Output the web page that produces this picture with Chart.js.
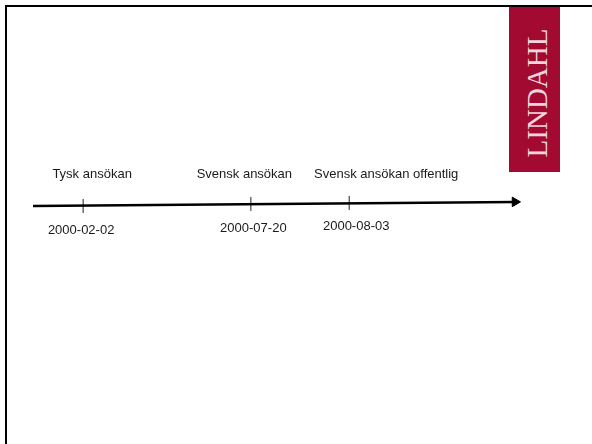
<!DOCTYPE html>
<html>
<head>
<meta charset="utf-8">
<script src="https://cdn.jsdelivr.net/npm/chart.js@4"></script>
<style>
  html, body { margin: 0; padding: 0; background: #fff; }
  #wrap { position: relative; width: 592px; height: 444px; overflow: hidden; }
  #frame { position: absolute; left: 5px; top: 5px; right: -10px; bottom: -10px;
           border-top: 2.5px solid #000; border-left: 2.5px solid #000; }
  #logo { position: absolute; left: 509px; top: 7px; width: 51px; height: 165px; background: #a30a31; }
  #logo span { position: absolute; left: 28px; top: 86px; transform: translate(-50%, -50%) rotate(-90deg);
               font-family: "Liberation Serif", "DejaVu Serif", serif; font-size: 29px; color: #f0d6dc;
               white-space: nowrap; line-height: 1; }
  canvas { position: absolute; left: 0; top: 0; }
</style>
</head>
<body>
<div id="wrap">
  <div id="frame"></div>
  <div id="logo"><span>LINDAHL</span></div>
  <canvas id="timeline" width="592" height="444"></canvas>
</div>
<script>
// events on the timeline (schematic positions, not to time scale)
const eventNames = ['Tysk ansökan', 'Svensk ansökan', 'Svensk ansökan offentlig'];
const eventDates = ['2000-02-02', '2000-07-20', '2000-08-03'];
const eventPos = [10.4, 45.2, 65.6];
const eventY = [0, 0.01, 0.015];
// the axis line itself, drawn slightly tilted as in the slide
const axisX = [0, 100];
const axisY = [0, 0.02];

function initChart() {
    if (typeof Chart === 'undefined') {
        setTimeout(initChart, 500);
        return;
    }

    const labelPlugin = {
        id: 'eventLabels',
        afterDatasetsDraw(chart, args, opts) {
            const ctx = chart.ctx;
            const meta = chart.getDatasetMeta(1);
            ctx.save();
            ctx.font = '13px "Liberation Sans", Arial, sans-serif';
            ctx.fillStyle = '#1a1a1a';
            ctx.textAlign = 'center';
            ctx.textBaseline = 'middle';
            meta.data.forEach((pt, i) => {
                ctx.fillText(eventNames[i], pt.x + opts.nameDx[i], opts.nameY);
                ctx.fillText(eventDates[i], pt.x + opts.dateDx[i], pt.y + opts.dateDy);
            });
            ctx.restore();
        }
    };

    const ctx = document.getElementById('timeline').getContext('2d');

    new Chart(ctx, {
        type: 'scatter',
        data: {
            datasets: [{
                label: 'axis',
                data: axisX.map((x, i) => ({ x: x, y: axisY[i] })),
                showLine: true,
                clip: false,
                borderColor: '#000',
                borderWidth: 2.5,
                pointStyle: 'triangle',
                rotation: 90,
                pointRadius: [0, 5.5],
                pointBackgroundColor: '#000',
                pointBorderColor: '#000',
                pointBorderWidth: 1
            },
            {
                label: 'events',
                data: eventPos.map((x, i) => ({ x: x, y: eventY[i] })),
                clip: false,
                pointStyle: 'line',
                rotation: 90,
                pointRadius: 7,
                pointBorderColor: '#222',
                pointBorderWidth: 1
            }]
        },
        options: {
            responsive: false,
            animation: false,
            layout: { autoPadding: false, padding: { left: 33, right: 77, top: 0, bottom: 32 } },
            scales: {
                x: { type: 'linear', display: false, min: 0, max: 100 },
                y: { type: 'linear', display: false, min: -1, max: 1 }
            },
            plugins: {
                legend: { display: false },
                tooltip: { enabled: false },
                eventLabels: {
                    nameY: 174,
                    nameDx: [9, -6.5, 37],
                    dateDx: [-2, 2.5, 7],
                    dateDy: 24
                }
            }
        },
        plugins: [labelPlugin]
    });
}

initChart();
</script>
</body>
</html>
